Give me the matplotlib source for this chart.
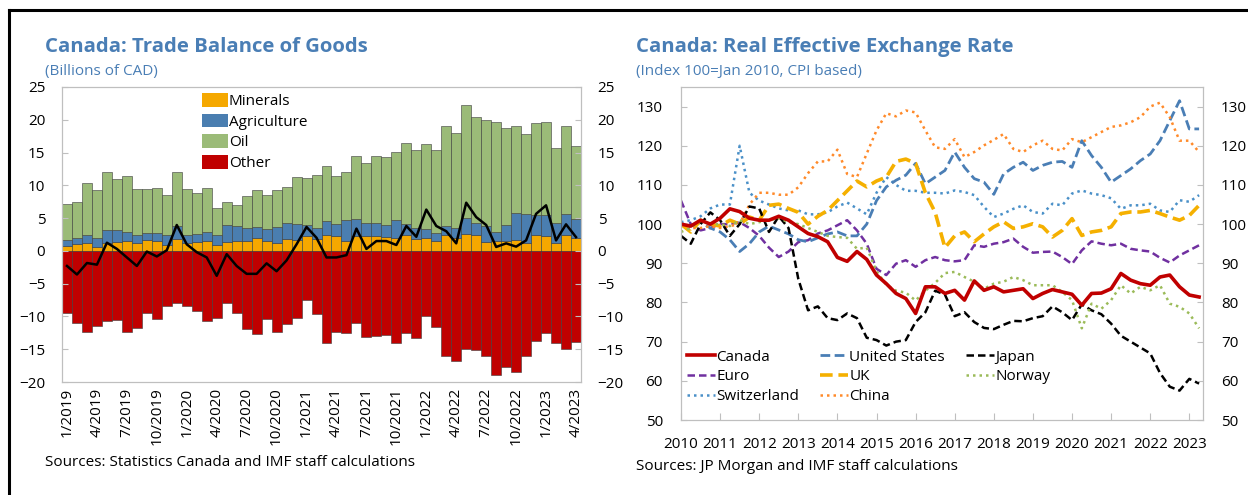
import numpy as np
import matplotlib
matplotlib.use('Agg')
import matplotlib.pyplot as plt
from matplotlib.lines import Line2D
from matplotlib.patches import Patch

plt.rcParams['font.family'] = ['Open Sans', 'DejaVu Sans']

# ---------------- left panel: trade balance of goods (bn CAD), 1/2019 - 4/2023
minerals = [0.8, 1.0, 1.25, 0.65, 1.25, 1.35, 1.5, 1.25, 1.6, 1.45, 0.85, 1.85, 1.25,
            1.35, 1.5, 0.9, 1.4, 1.55, 1.45, 2.0, 1.55, 1.25, 1.75, 1.7, 2.25, 1.75,
            2.35, 2.25, 1.5, 2.2, 2.25, 2.2, 2.1, 1.9, 2.4, 1.75, 1.95, 1.55, 2.4,
            2.0, 2.6, 2.4, 1.3, 1.45, 1.5, 1.6, 1.25, 2.4, 2.2, 1.25, 2.4, 2.0]
agriculture = [0.9, 0.95, 1.1, 1.3, 1.95, 1.85, 1.4, 1.2, 1.2, 1.3, 1.6, 1.95, 1.1,
               1.2, 1.4, 1.45, 2.55, 2.2, 2.0, 1.65, 1.8, 2.4, 2.45, 2.35, 1.75, 1.75,
               2.15, 1.85, 3.2, 2.6, 2.05, 2.0, 1.9, 2.85, 1.7, 1.8, 1.45, 1.15, 1.35,
               1.45, 2.4, 1.8, 2.5, 1.45, 2.4, 4.2, 4.35, 3.1, 3.3, 3.0, 3.2, 2.85]
oil = [5.5, 5.55, 8.05, 7.35, 8.9, 7.8, 8.45, 7.05, 6.7, 6.85, 6.15, 8.3, 7.15,
       6.25, 6.7, 4.15, 3.55, 3.25, 4.9, 5.65, 5.15, 5.65, 5.5, 7.15, 7.1, 8.1,
       8.5, 7.25, 7.4, 9.7, 9.15, 10.25, 10.3, 10.3, 12.35, 11.85, 12.9, 12.7, 15.35,
       14.55, 17.3, 16.2, 16.15, 16.75, 14.9, 13.2, 12.3, 14.05, 14.1, 11.45, 13.5, 11.15]
other = [-9.4, -11.05, -12.3, -11.45, -10.75, -10.55, -12.3, -11.75, -9.5, -10.4, -8.4,
         -8.0, -8.35, -9.2, -10.65, -10.2, -7.9, -9.5, -11.9, -12.7, -10.4, -12.4, -11.2,
         -10.3, -7.5, -9.6, -14.0, -12.3, -12.5, -11.05, -13.1, -13.0, -12.9, -14.1, -12.6,
         -13.25, -10.0, -11.6, -16.0, -16.75, -14.9, -15.1, -16.0, -18.9, -17.65, -18.4,
         -16.1, -13.7, -12.6, -14.0, -14.9, -13.85]
balance = [-2.3, -3.6, -1.85, -2.1, 1.25, 0.3, -1.0, -2.3, -0.1, -0.85, 0.1, 3.95, 1.0,
           -0.2, -1.0, -3.8, -0.5, -2.3, -3.5, -3.5, -1.9, -3.1, -1.45, 1.0, 3.65, 2.0,
           -1.0, -1.0, -0.65, 3.4, 0.3, 1.5, 1.5, 0.9, 3.8, 2.15, 6.3, 3.8, 3.0, 1.15,
           7.35, 5.15, 3.95, 0.6, 1.15, 0.65, 1.6, 5.65, 6.95, 1.6, 4.05, 2.1]
month_labels = ['1/2019', '4/2019', '7/2019', '10/2019', '1/2020', '4/2020', '7/2020',
                '10/2020', '1/2021', '4/2021', '7/2021', '10/2021', '1/2022', '4/2022',
                '7/2022', '10/2022', '1/2023', '4/2023']

# ---------------- right panel: REER, quarterly points from Q1 2010
reer_t = 2010 + np.arange(0, 160, 3) / 12
canada = [100, 99.5, 101, 100, 101.5, 103.9, 103.2, 101.5, 101, 101, 102, 101,
          99.3, 97.6, 96.8, 95.5, 91.5, 90.5, 93, 91, 87, 84.8, 82.3, 81,
          77.2, 84, 84, 82.3, 83.1, 80.6, 85.5, 83.1, 84, 82.7, 83.1, 83.5,
          81, 82.3, 83.3, 82.7, 82.1, 79.3, 82.3, 82.4, 83.5, 87.4, 85.7, 84.8,
          84.4, 86.5, 87, 84, 81.9, 81.4]
united_states = [100, 99, 100.5, 99, 98, 96, 93, 95, 98, 99.5, 98.5, 97.5,
                 96, 95.5, 96.5, 97.5, 98, 97, 97, 100, 106, 109.5, 111.2, 112.5,
                 115.5, 110.3, 112, 113.7, 118.4, 114.5, 111.6, 110.7, 107.6, 112.8, 114.5, 115.8,
                 113.7, 115, 115.8, 116, 114.5, 121.3, 117.5, 114.5, 110.7, 112.4, 114.1, 116.2,
                 117.9, 121.3, 126.4, 131.5, 124.3, 124.3]
japan = [97, 95, 100, 103, 101, 97, 100, 104.5, 104, 98, 102, 99,
         86, 78, 79, 76, 75.5, 77.2, 76, 71, 70.4, 69, 70, 70.4,
         75, 77.5, 83, 82, 76.5, 77.5, 75, 73.5, 73.2, 74.3, 75.3, 75.2,
         76, 76.5, 79, 77.5, 75.5, 79.5, 78, 77, 74.6, 71.5, 70, 68.5,
         67, 62, 58.5, 57.5, 60.5, 59.3]
euro = [106, 100, 98.4, 99, 100, 100, 100.5, 99, 97, 94, 91.6, 93,
        95.4, 95.9, 97.6, 98.4, 99.7, 101, 98.4, 95, 88.6, 87, 89.9, 90.8,
        89.1, 90.8, 91.6, 90.8, 90.5, 90.8, 94.6, 94.2, 95, 95.4, 96.3, 94.2,
        92.7, 92.9, 93, 91.6, 89.8, 93.3, 95.6, 95, 94.6, 95, 93.7, 93.3,
        93, 91.4, 90.2, 92, 93.3, 94.6]
uk = [100, 98, 101, 100, 99.5, 101, 100, 101.8, 101, 104.8, 105.1, 104,
      103, 100, 102, 103.5, 106, 108.5, 111, 109.5, 111, 112, 116, 116.6,
      115.5, 108, 103, 94, 97, 98, 95.5, 97.5, 99.3, 100.6, 98.9, 99.3,
      100.1, 99.3, 96.7, 98.4, 101.4, 97.1, 98, 98.4, 99.3, 102.7, 103.1, 103.1,
      103.5, 102.7, 101.8, 101, 102.2, 104.8]
norway = [98, 99, 101, 100, 100, 99.5, 101, 100, 100.5, 101, 101.5, 100.5,
          100, 99, 98, 97, 96.7, 96.5, 93.7, 94, 88, 84.5, 83, 82.5,
          80.5, 83, 85, 87.5, 87.8, 86.5, 85.3, 83.5, 84.8, 85.3, 86.5, 85.7,
          84.4, 84.4, 84.4, 82.7, 80.6, 73.4, 79.7, 78.4, 80.6, 84.4, 82.3, 84,
          83.1, 84.4, 79.7, 78.9, 77.2, 73.4]
switzerland = [100.5, 101, 102, 104, 105, 105, 120, 108, 106, 105, 104, 103.5,
               103.5, 102.5, 102.5, 103, 104.5, 105.5, 104, 102.5, 108, 112, 110, 108.5,
               108.5, 108, 108, 107.8, 108.6, 108.2, 107.4, 104.4, 101.8, 102.7, 103.9, 104.8,
               103.1, 102.7, 105.2, 104.8, 107.8, 108.6, 107.8, 107.4, 106.6, 103.9, 104.8, 104.8,
               105.2, 103.5, 103.1, 106.1, 105.7, 107.4]
china = [100, 99, 99, 99.5, 99, 99.5, 100, 105, 108, 108, 107.5, 107.5,
         109.4, 113, 116, 116, 119, 112.8, 112, 118, 123.9, 128.3, 127.5, 129,
         128.5, 123.9, 119.6, 119.2, 121.7, 117.1, 118.4, 120.1, 121.5, 123, 119.2, 118.4,
         120.1, 121.3, 119.2, 118.8, 121.7, 120.9, 122.2, 123.5, 124.8, 125.2, 126, 127.3,
         130, 131, 127.3, 121.3, 121.3, 118.4]
years = list(range(2010, 2024))

title_c = '#4A7EB5'
spine_c = '#BFBFBF'

fig = plt.figure(figsize=(12.48, 4.95), dpi=100)

# frame lines (top / left)
fig.add_artist(Line2D([9 / 1248, 1.0], [1 - 10 / 495, 1 - 10 / 495], color='black', lw=2.2))
fig.add_artist(Line2D([9 / 1248, 9 / 1248], [0.0, 1 - 10 / 495], color='black', lw=2.2))

# ---- left chart
ax = fig.add_axes([62 / 1248, 1 - 382 / 495, 519 / 1248, 295 / 495])
x = np.arange(len(minerals))
minerals = np.array(minerals)
agriculture = np.array(agriculture)
oil = np.array(oil)
ec = dict(edgecolor='#3a3a3a', linewidth=0.4, width=1.0)
ax.bar(x, minerals, color='#F5A800', label='Minerals', **ec)
ax.bar(x, agriculture, bottom=minerals, color='#4A7EB0', label='Agriculture', **ec)
ax.bar(x, oil, bottom=minerals + agriculture, color='#9BBB78', label='Oil', **ec)
ax.bar(x, other, color='#C00000', label='Other', **ec)
ax.plot(x, balance, color='black', lw=1.8)
ax.set_xlim(-0.5, len(x) - 0.5)
ax.set_ylim(-20, 25)
ax.set_yticks(range(-20, 30, 5))
ax.set_xticks(x[::3])
ax.set_xticklabels(month_labels, rotation=90)
ax2 = ax.twinx()
ax2.set_ylim(-20, 25)
ax2.set_yticks(range(-20, 30, 5))
for a in (ax, ax2):
    for s in a.spines.values():
        s.set_color(spine_c)
    a.tick_params(axis='y', direction='in', length=4, color=spine_c, labelsize=11, pad=12)
ax.tick_params(axis='x', length=0, labelsize=11, pad=4)
handles = [Patch(facecolor=c, edgecolor='none') for c in ['#F5A800', '#4A7EB0', '#9BBB78', '#C00000']]
ax.legend(handles, ['Minerals', 'Agriculture', 'Oil', 'Other'], loc='upper left',
          bbox_to_anchor=(0.258, 1.0), frameon=False, fontsize=11, handlelength=1.7,
          handleheight=1.0, handletextpad=0.05, labelspacing=0.3, borderaxespad=0)

fig.text(45 / 1248, 1 - 47 / 495, 'Canada: Trade Balance of Goods', color=title_c,
         fontsize=14.7, fontweight='bold', va='center')
fig.text(45 / 1248, 1 - 72 / 495, '(Billions of CAD)', color=title_c, fontsize=11, va='center')
fig.text(45 / 1248, 1 - 463 / 495, 'Sources: Statistics Canada and IMF staff calculations',
         fontsize=11, va='center')

# ---- right chart
bx = fig.add_axes([681 / 1248, 1 - 420 / 495, 522 / 1248, 333 / 495])
styles = [
    ('Canada', canada, '#C00000', '-', 2.6),
    ('Euro', euro, '#7030A0', (0, (3, 1.6)), 1.8),
    ('Switzerland', switzerland, '#4A90C8', (0, (1, 1.6)), 1.8),
    ('United States', united_states, '#4A7EB5', (0, (3.5, 1.6)), 2.0),
    ('UK', uk, '#F5B000', (0, (3.5, 1.6)), 2.6),
    ('China', china, '#FF8A2A', (0, (1, 1.6)), 1.8),
    ('Japan', japan, 'black', (0, (3, 1.6)), 1.8),
    ('Norway', norway, '#9BBB59', (0, (1, 1.6)), 1.8),
]
lines = {}
for name, vals, col, ls, lw in styles:
    lines[name], = bx.plot(reer_t, vals, color=col, linestyle=ls, lw=lw, label=name)
# draw Canada on top
lines['Canada'].set_zorder(5)
bx.set_xlim(2010, 2023.35)
bx.set_ylim(50, 135)
bx.set_yticks(range(50, 140, 10))
bx.set_xticks(years)
bx2 = bx.twinx()
bx2.set_ylim(50, 135)
bx2.set_yticks(range(50, 140, 10))
for a in (bx, bx2):
    for s in a.spines.values():
        s.set_color(spine_c)
    a.tick_params(axis='y', direction='in', length=4, color=spine_c, labelsize=11, pad=13)
bx.tick_params(axis='x', direction='in', length=5, color=spine_c, labelsize=11, pad=12)
bx.legend(handles=[lines[s[0]] for s in styles], loc='lower left', bbox_to_anchor=(0.0, 0.03),
          ncol=3, frameon=False, fontsize=11, handlelength=1.8, handletextpad=0.1,
          columnspacing=1.4, labelspacing=0.3, borderaxespad=0)

fig.text(636 / 1248, 1 - 47 / 495, 'Canada: Real Effective Exchange Rate', color=title_c,
         fontsize=14.7, fontweight='bold', va='center')
fig.text(636 / 1248, 1 - 72 / 495, '(Index 100=Jan 2010, CPI based)', color=title_c,
         fontsize=11, va='center')
fig.text(636 / 1248, 1 - 466 / 495, 'Sources: JP Morgan and IMF staff calculations',
         fontsize=11, va='center')

fig.savefig('out.png', dpi=100)
